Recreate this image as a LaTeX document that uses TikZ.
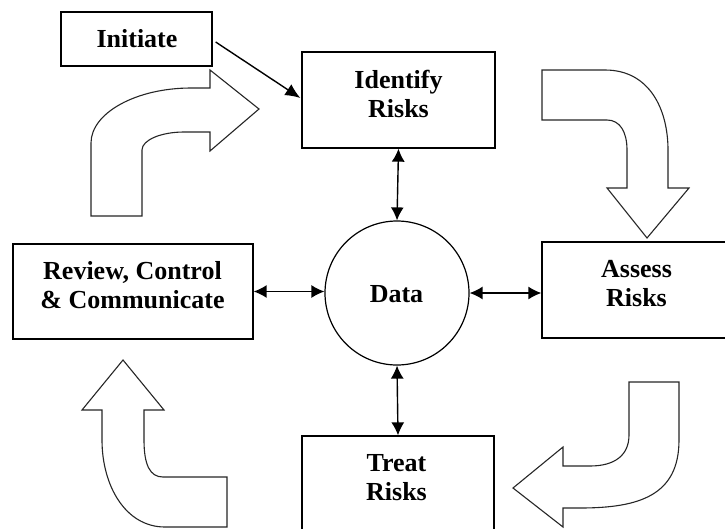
\documentclass[tikz,border=0pt]{standalone}
\usepackage{fontspec}
\setmainfont{Liberation Serif}
\usetikzlibrary{arrows.meta,calc}
\begin{document}
\begin{tikzpicture}[x=1pt,y=-1pt,
  box/.style={draw=black,line width=1.3pt,minimum width=193pt,minimum height=96pt,inner sep=0pt},
  lbl/.style={font=\fontsize{26}{29}\selectfont\bfseries,align=center,inner sep=0pt},
  link/.style={line width=1.4pt,{Latex[length=13pt,width=13pt]}-{Latex[length=13pt,width=13pt]}},
  onelink/.style={line width=1.4pt,-{Latex[length=15pt,width=13pt]}},
  blockarrow/.style={draw=black!85,line width=1.1pt,fill=white,line join=miter}]
\useasboundingbox (0,0) rectangle (725,528);

% boxes
\node[box,minimum width=151pt,minimum height=54pt] (init) at (136.5,39) {};
\node[lbl] (initT) at (137,38.2) {Initiate};
\node[box] (idb) at (398.5,100) {};
\node[lbl] (idT) at (398.5,94.2) {Identify\\Risks};
\node[box,minimum width=240pt,minimum height=95pt] (rev) at (133,291.5) {};
\node[lbl] (revT) at (132.5,284.7) {Review, Control\\\& Communicate};
\node[box,minimum width=190pt] (ass) at (637,290) {};
\node[lbl] (assT) at (636.5,283.2) {Assess\\Risks};
\node[box,minimum width=192pt] (tr) at (398,484) {};
\node[lbl] (trT) at (396.5,477.7) {Treat\\Risks};
\node[circle,draw=black,line width=1.2pt,minimum size=144pt,inner sep=0pt] (data) at (397,293) {};
\node[lbl] (dataT) at (396.5,294.2) {Data};

% connectors
\draw[onelink] ($(init.east)+(3,3)$) -- ($(idb.west)+(-1,-2)$);
\draw[link] (idb.south) -- (data.north);
\draw[link] (data.south) -- (tr.north);
\draw[link] (rev.east) -- (rev.east -| data.west);
\draw[link] (data.east) -- (data.east -| ass.west);

% block arrows
\path[blockarrow] (142,216) -- (142,150) .. controls (142,140) and (161,132) .. (184,132)
  -- (210,132) -- (210,151) -- (259,109) -- (210,70) -- (210,88) -- (191,88)
  .. controls (136,88) and (91,113) .. (91,143) -- (91,216) -- cycle;
\path[blockarrow] (542,70) -- (605,70) .. controls (650,70) and (668,110) .. (668,150)
  -- (668,188) -- (689,188) -- (647,238) -- (607,188) -- (627,188) -- (627,150)
  .. controls (627,132) and (620,120) .. (607,120) -- (542,120) -- cycle;
\path[blockarrow] (629,382) -- (679,382) -- (679,440) .. controls (679,495) and (640,508) .. (580,508)
  -- (563,508) -- (563,527) -- (513,488) -- (563,447) -- (563,466) -- (590,466)
  .. controls (615,466) and (629,455) .. (629,435) -- cycle;
\path[blockarrow] (227,477) -- (163,477) .. controls (150,477) and (144,465) .. (144,440)
  -- (144,410) -- (164,410) -- (123,360) -- (82,410) -- (102,410) -- (102,440)
  .. controls (102,485) and (125,527) .. (165,527) -- (227,527) -- cycle;
\end{tikzpicture}
\end{document}
